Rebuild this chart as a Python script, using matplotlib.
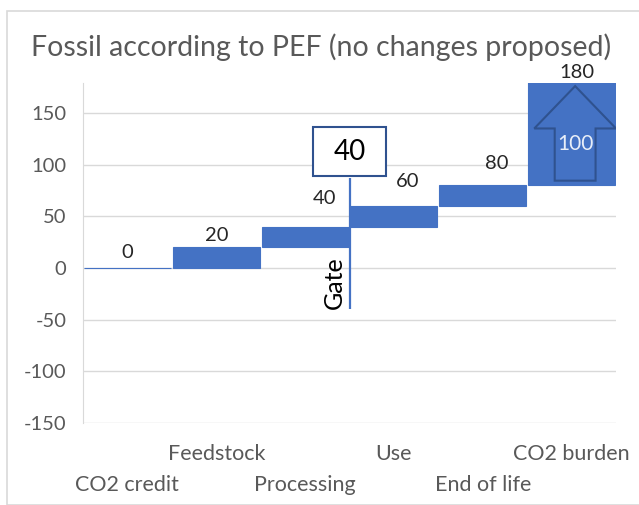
import matplotlib.pyplot as plt
from matplotlib.patches import Polygon, Rectangle
from matplotlib.transforms import blended_transform_factory

plt.rcParams['font.family'] = ['Lato', 'DejaVu Sans']

# ------------------------------------------------------------
# DATA
# ------------------------------------------------------------
categories = ["CO2 credit", "Feedstock", "Processing", "Use", "End of life", "CO2 burden"]
steps = [0, 20, 20, 20, 20, 100]
yticks = [-150, -100, -50, 0, 50, 100, 150]
gate_value = 40
burden_step = 100

# running totals for the waterfall
bottoms = []
tops = []
total = 0
for s in steps:
    bottoms.append(total)
    total += s
    tops.append(total)

# label offsets in pixels (moved by hand in the original)
label_dx = [0, 0, 19, 14, 14, 5]
label_dy = [15, 12, 28, 24, 22, 9]

BLUE = "#4472C4"
DARK_BLUE = "#2F528F"
GREY_TXT = "#595959"
GRID = "#D9D9D9"

# ------------------------------------------------------------
# FIGURE
# ------------------------------------------------------------
fig = plt.figure(figsize=(6.39, 5.05), dpi=100)
ax = fig.add_axes([83 / 639, 82 / 505, 533 / 639, 340 / 505])

# outer chart border
fig.patches.append(Rectangle((7 / 639, 0), 1, 1 - 11 / 505, transform=fig.transFigure,
                             fill=False, ec=GRID, lw=1.2))

x = list(range(len(categories)))
ax.bar(x, steps, bottom=bottoms, width=0.98, color=BLUE, edgecolor=BLUE, linewidth=0.8, zorder=2)

# data labels
for i, t in enumerate(tops):
    ax.annotate(str(t), (x[i], t), xytext=(label_dx[i], label_dy[i]),
                textcoords="offset pixels", ha="center", va="center",
                fontsize=14.5, color="#262626", zorder=5, annotation_clip=False)

# up arrow inside the CO2 burden bar
cx = x[-1] + 0.04
base = bottoms[-1]
top = tops[-1]
head_w, shaft_w = 0.46, 0.23
tip_y = top - 4
head_y = base + 0.55 * burden_step
foot_y = base + 4.5
arrow = Polygon([(cx, tip_y), (cx + head_w, head_y), (cx + shaft_w, head_y),
                 (cx + shaft_w, foot_y), (cx - shaft_w, foot_y), (cx - shaft_w, head_y),
                 (cx - head_w, head_y)], closed=True, fc=BLUE, ec=DARK_BLUE, lw=1.5, zorder=3)
ax.add_patch(arrow)
ax.text(cx, base + 0.4 * burden_step, str(burden_step), ha="center", va="center",
        fontsize=15, color="#E8EEF8", zorder=4)

# gate line and box
gate_x = 2.5
ax.vlines(gate_x, -40, 87, color=BLUE, lw=1.6, zorder=4)
ax.text(gate_x - 0.17, -14, "Gate", rotation=90, ha="center", va="center",
        fontsize=18, color="black", zorder=4)
ax.add_patch(Rectangle((gate_x - 0.41, 89), 0.82, 47.5, fc="white", ec=DARK_BLUE, lw=1.5, zorder=4))
ax.text(gate_x, 112.5, str(gate_value), ha="center", va="center", fontsize=20,
        color="black", zorder=5)

# axes styling
ax.set_xlim(-0.5, len(categories) - 0.5)
ax.set_ylim(-150, 179)
ax.set_yticks(yticks)
ax.set_yticklabels([str(v) for v in yticks])
ax.set_xticks([])
ax.tick_params(axis="y", length=0, pad=12, labelsize=14.5, labelcolor=GREY_TXT)
ax.grid(axis="y", color=GRID, lw=1, zorder=0)
for s in ["top", "right", "bottom"]:
    ax.spines[s].set_visible(False)
ax.spines["left"].set_color(GRID)
ax.spines["left"].set_zorder(0)

# staggered category labels
trans = blended_transform_factory(ax.transData, ax.transAxes)
for i, name in enumerate(categories):
    y_lab = -0.182 if i % 2 == 0 else -0.091
    ax.text(x[i], y_lab, name, transform=trans, ha="center", va="center",
            fontsize=15.5, color=GREY_TXT)

fig.text(321 / 639, 1 - 47 / 505, "Fossil according to PEF (no changes proposed)",
         ha="center", va="center", fontsize=20.5, color=GREY_TXT)

fig.savefig("out.png", dpi=100)
